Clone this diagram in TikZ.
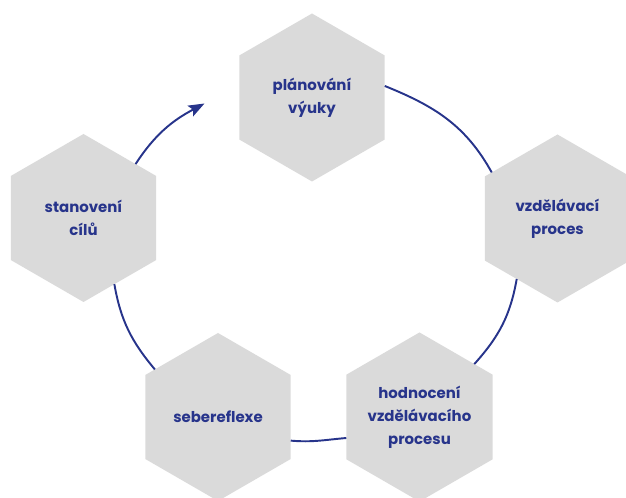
\documentclass[tikz,border=0pt]{standalone}
\usepackage{fontspec}
\setmainfont{Poppins}
\newfontfamily\hexfont{Poppins Bold}
\usetikzlibrary{shapes.geometric,arrows.meta}
\definecolor{navy}{HTML}{27348B}
\definecolor{hexgray}{HTML}{DADADA}
\begin{document}
\begin{tikzpicture}[
  hexa/.style={regular polygon, regular polygon sides=6, shape border rotate=30,
    minimum size=3.36cm, inner sep=0pt, outer sep=0pt, fill=hexgray, text=navy,
    align=center, font=\hexfont\fontsize{8.5}{13}\selectfont},
  spoj/.style={draw=navy, line width=1.1pt}]
     \useasboundingbox (0,0) rectangle (12.52,9.96);
     \clip (0,0) rectangle (12.52,9.96);
     \node[hexa] (plan) at (6.24,8.01) {plánování\\výuky};
     \node[hexa] (cile) at (1.67,5.60) {stanovení\\cílů};
     \node[hexa] (proces) at (11.15,5.59) {vzdělávací\\proces};
     \node[hexa] (hodn) at (8.39,1.62) {hodnocení\\vzdělávacího\\procesu};
     \node[hexa] (reflexe) at (4.36,1.62) {sebereflexe};
     \coordinate (tip) at (4.09,7.89);
     \draw[spoj,-{Stealth[length=0.32cm,width=0.24cm,inset=0.06cm]}] (cile.46) to[out=57,in=208] (tip);
     \draw[spoj] (plan.9) to[out=-22,in=119] (proces.145);
     \draw[spoj] (proces.236) to[out=-100,in=48] (hodn.44);
     \draw[spoj] (hodn.196) to[out=185,in=-5] (reflexe.-18);
     \draw[spoj] (reflexe.143) to[out=130,in=-80] (cile.-65);
\end{tikzpicture}
\end{document}
